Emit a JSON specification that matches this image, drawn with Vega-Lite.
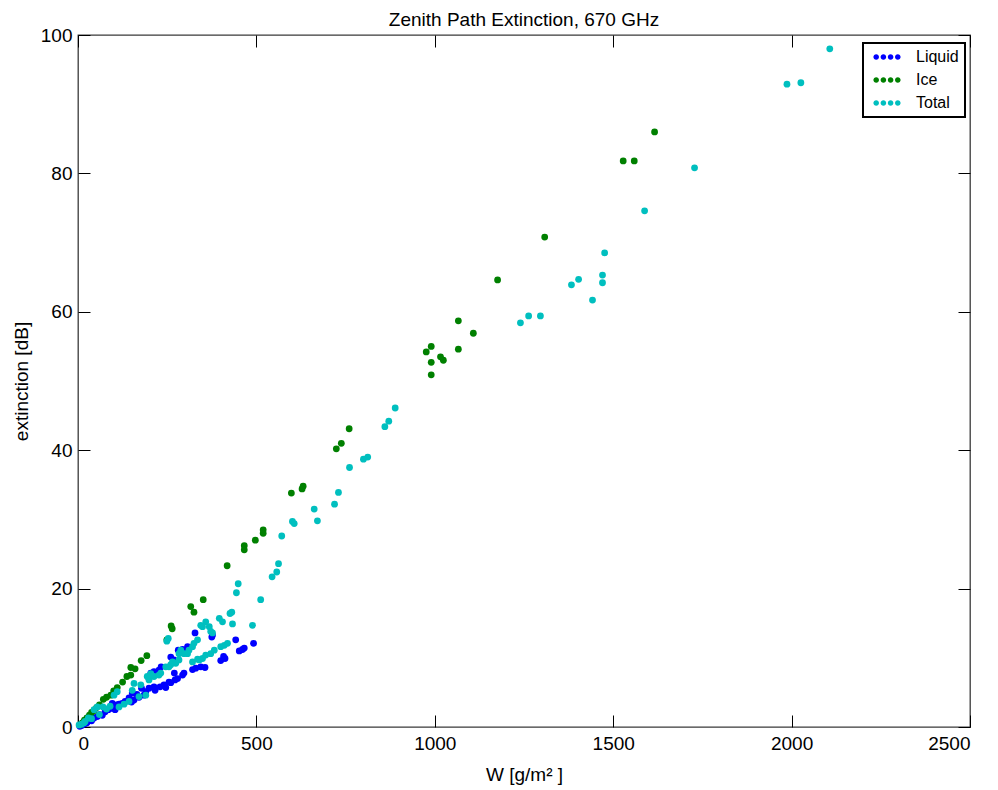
{
  "$schema": "https://vega.github.io/schema/vega-lite/v6.json",
  "autosize": "none",
  "padding": {"left": 78, "top": 35, "right": 28, "bottom": 63},
  "width": 892,
  "height": 692,
  "background": "white",
  "title": {"text": "Zenith Path Extinction, 670 GHz", "font": "Liberation Sans", "fontSize": 19, "fontWeight": "normal", "anchor": "middle", "offset": -4, "color": "black"},
  "config": {
    "view": {"stroke": "#3a3a3a", "strokeWidth": 1.3},
    "axis": {"domain": false, "grid": false, "tickColor": "black", "tickWidth": 1, "tickSize": -12, "labelFont": "Liberation Sans", "labelFontSize": 19, "labelColor": "black", "titleFont": "Liberation Sans", "titleFontSize": 19, "titleFontWeight": "normal", "titleColor": "black", "format": "d"},
    "legend": {"strokeWidth": 2}
  },
  "data": {"values": [
    {"series":"Liquid","W":5,"ext":0.1},{"series":"Liquid","W":10,"ext":0.2},{"series":"Liquid","W":15,"ext":0.4},{"series":"Liquid","W":20,"ext":0.5},{"series":"Liquid","W":25,"ext":0.6},{"series":"Liquid","W":31,"ext":1.0},{"series":"Liquid","W":38,"ext":0.9},{"series":"Liquid","W":45,"ext":1.3},{"series":"Liquid","W":54,"ext":1.5},{"series":"Liquid","W":60,"ext":1.8},{"series":"Liquid","W":68,"ext":1.7},{"series":"Liquid","W":76,"ext":2.2},{"series":"Liquid","W":85,"ext":2.5},{"series":"Liquid","W":94,"ext":2.7},{"series":"Liquid","W":96,"ext":3.4},{"series":"Liquid","W":104,"ext":2.5},{"series":"Liquid","W":108,"ext":3.2},{"series":"Liquid","W":115,"ext":3.3},{"series":"Liquid","W":124,"ext":3.4},{"series":"Liquid","W":132,"ext":3.7},{"series":"Liquid","W":143,"ext":4.2},{"series":"Liquid","W":150,"ext":3.6},{"series":"Liquid","W":152,"ext":4.9},{"series":"Liquid","W":157,"ext":3.9},{"series":"Liquid","W":165,"ext":4.7},{"series":"Liquid","W":171,"ext":4.3},{"series":"Liquid","W":178,"ext":5.6},{"series":"Liquid","W":185,"ext":4.6},{"series":"Liquid","W":190,"ext":5.1},{"series":"Liquid","W":199,"ext":5.6},{"series":"Liquid","W":199,"ext":7.0},{"series":"Liquid","W":204,"ext":7.8},{"series":"Liquid","W":213,"ext":5.8},{"series":"Liquid","W":213,"ext":8.0},{"series":"Liquid","W":216,"ext":5.3},{"series":"Liquid","W":227,"ext":8.2},{"series":"Liquid","W":230,"ext":5.8},{"series":"Liquid","W":233,"ext":8.7},{"series":"Liquid","W":241,"ext":6.1},{"series":"Liquid","W":246,"ext":5.7},{"series":"Liquid","W":255,"ext":6.5},{"series":"Liquid","W":260,"ext":6.4},{"series":"Liquid","W":260,"ext":10.1},{"series":"Liquid","W":269,"ext":9.7},{"series":"Liquid","W":270,"ext":7.8},{"series":"Liquid","W":272,"ext":6.8},{"series":"Liquid","W":279,"ext":7.0},{"series":"Liquid","W":281,"ext":11.1},{"series":"Liquid","W":293,"ext":11.2},{"series":"Liquid","W":293,"ext":7.5},{"series":"Liquid","W":297,"ext":7.8},{"series":"Liquid","W":302,"ext":11.1},{"series":"Liquid","W":307,"ext":11.6},{"series":"Liquid","W":321,"ext":8.3},{"series":"Liquid","W":328,"ext":13.6},{"series":"Liquid","W":330,"ext":8.5},{"series":"Liquid","W":344,"ext":8.7},{"series":"Liquid","W":356,"ext":8.6},{"series":"Liquid","W":375,"ext":13.0},{"series":"Liquid","W":377,"ext":13.3},{"series":"Liquid","W":400,"ext":9.6},{"series":"Liquid","W":408,"ext":10.2},{"series":"Liquid","W":412,"ext":9.9},{"series":"Liquid","W":442,"ext":12.6},{"series":"Liquid","W":452,"ext":11.0},{"series":"Liquid","W":461,"ext":11.2},{"series":"Liquid","W":466,"ext":11.4},{"series":"Liquid","W":492,"ext":12.1},
    {"series":"Ice","W":5,"ext":0.3},{"series":"Ice","W":12,"ext":0.6},{"series":"Ice","W":18,"ext":1.0},{"series":"Ice","W":25,"ext":1.3},{"series":"Ice","W":32,"ext":1.7},{"series":"Ice","W":38,"ext":2.1},{"series":"Ice","W":45,"ext":2.4},{"series":"Ice","W":52,"ext":2.8},{"series":"Ice","W":60,"ext":3.2},{"series":"Ice","W":71,"ext":4.0},{"series":"Ice","W":80,"ext":4.3},{"series":"Ice","W":92,"ext":4.6},{"series":"Ice","W":100,"ext":5.2},{"series":"Ice","W":110,"ext":5.7},{"series":"Ice","W":125,"ext":6.5},{"series":"Ice","W":137,"ext":7.3},{"series":"Ice","W":148,"ext":7.5},{"series":"Ice","W":148,"ext":8.6},{"series":"Ice","W":160,"ext":8.4},{"series":"Ice","W":177,"ext":9.6},{"series":"Ice","W":193,"ext":10.3},{"series":"Ice","W":249,"ext":12.6},{"series":"Ice","W":261,"ext":14.6},{"series":"Ice","W":264,"ext":14.2},{"series":"Ice","W":316,"ext":17.4},{"series":"Ice","W":325,"ext":16.6},{"series":"Ice","W":351,"ext":18.4},{"series":"Ice","W":418,"ext":23.3},{"series":"Ice","W":466,"ext":25.6},{"series":"Ice","W":466,"ext":26.2},{"series":"Ice","W":497,"ext":27.0},{"series":"Ice","W":519,"ext":28.0},{"series":"Ice","W":519,"ext":28.5},{"series":"Ice","W":598,"ext":33.8},{"series":"Ice","W":628,"ext":34.4},{"series":"Ice","W":631,"ext":34.8},{"series":"Ice","W":724,"ext":40.2},{"series":"Ice","W":738,"ext":41.0},{"series":"Ice","W":760,"ext":43.1},{"series":"Ice","W":976,"ext":54.2},{"series":"Ice","W":990,"ext":55.0},{"series":"Ice","W":990,"ext":52.7},{"series":"Ice","W":990,"ext":50.9},{"series":"Ice","W":1016,"ext":53.5},{"series":"Ice","W":1024,"ext":53.0},{"series":"Ice","W":1066,"ext":58.7},{"series":"Ice","W":1066,"ext":54.6},{"series":"Ice","W":1108,"ext":56.9},{"series":"Ice","W":1176,"ext":64.6},{"series":"Ice","W":1308,"ext":70.8},{"series":"Ice","W":1528,"ext":81.8},{"series":"Ice","W":1559,"ext":81.8},{"series":"Ice","W":1616,"ext":86.0},
    {"series":"Total","W":3,"ext":0.3},{"series":"Total","W":10,"ext":0.4},{"series":"Total","W":17,"ext":0.6},{"series":"Total","W":20,"ext":0.8},{"series":"Total","W":29,"ext":1.3},{"series":"Total","W":38,"ext":1.2},{"series":"Total","W":45,"ext":2.5},{"series":"Total","W":54,"ext":2.9},{"series":"Total","W":60,"ext":1.8},{"series":"Total","W":70,"ext":2.9},{"series":"Total","W":80,"ext":2.6},{"series":"Total","W":90,"ext":3.0},{"series":"Total","W":101,"ext":4.6},{"series":"Total","W":110,"ext":5.1},{"series":"Total","W":115,"ext":2.9},{"series":"Total","W":129,"ext":3.3},{"series":"Total","W":143,"ext":3.7},{"series":"Total","W":152,"ext":5.3},{"series":"Total","W":157,"ext":6.3},{"series":"Total","W":171,"ext":4.4},{"series":"Total","W":176,"ext":6.1},{"series":"Total","W":190,"ext":4.6},{"series":"Total","W":194,"ext":7.3},{"series":"Total","W":199,"ext":6.8},{"series":"Total","W":204,"ext":7.7},{"series":"Total","W":213,"ext":7.3},{"series":"Total","W":227,"ext":7.5},{"series":"Total","W":232,"ext":7.8},{"series":"Total","W":246,"ext":8.7},{"series":"Total","W":249,"ext":12.4},{"series":"Total","W":253,"ext":12.8},{"series":"Total","W":255,"ext":8.7},{"series":"Total","W":260,"ext":9.0},{"series":"Total","W":265,"ext":9.4},{"series":"Total","W":274,"ext":9.2},{"series":"Total","W":283,"ext":9.7},{"series":"Total","W":283,"ext":10.6},{"series":"Total","W":288,"ext":11.1},{"series":"Total","W":297,"ext":10.6},{"series":"Total","W":307,"ext":10.6},{"series":"Total","W":311,"ext":11.1},{"series":"Total","W":321,"ext":11.6},{"series":"Total","W":321,"ext":9.4},{"series":"Total","W":325,"ext":12.1},{"series":"Total","W":335,"ext":12.6},{"series":"Total","W":335,"ext":9.8},{"series":"Total","W":340,"ext":9.7},{"series":"Total","W":344,"ext":14.7},{"series":"Total","W":349,"ext":9.9},{"series":"Total","W":349,"ext":14.5},{"series":"Total","W":358,"ext":10.4},{"series":"Total","W":358,"ext":15.2},{"series":"Total","W":368,"ext":14.5},{"series":"Total","W":372,"ext":10.6},{"series":"Total","W":372,"ext":13.8},{"series":"Total","W":377,"ext":13.6},{"series":"Total","W":382,"ext":11.1},{"series":"Total","W":396,"ext":15.7},{"series":"Total","W":400,"ext":11.6},{"series":"Total","W":405,"ext":15.2},{"series":"Total","W":410,"ext":11.8},{"series":"Total","W":419,"ext":12.1},{"series":"Total","W":426,"ext":16.4},{"series":"Total","W":431,"ext":16.6},{"series":"Total","W":433,"ext":14.9},{"series":"Total","W":444,"ext":19.4},{"series":"Total","W":449,"ext":20.7},{"series":"Total","W":489,"ext":14.7},{"series":"Total","W":512,"ext":18.4},{"series":"Total","W":544,"ext":21.7},{"series":"Total","W":557,"ext":22.4},{"series":"Total","W":562,"ext":23.6},{"series":"Total","W":571,"ext":27.6},{"series":"Total","W":601,"ext":29.7},{"series":"Total","W":606,"ext":29.4},{"series":"Total","W":662,"ext":31.5},{"series":"Total","W":671,"ext":29.8},{"series":"Total","W":719,"ext":32.2},{"series":"Total","W":730,"ext":33.9},{"series":"Total","W":761,"ext":37.5},{"series":"Total","W":800,"ext":38.7},{"series":"Total","W":812,"ext":39.0},{"series":"Total","W":860,"ext":43.4},{"series":"Total","W":871,"ext":44.2},{"series":"Total","W":889,"ext":46.1},{"series":"Total","W":1240,"ext":58.4},{"series":"Total","W":1263,"ext":59.4},{"series":"Total","W":1296,"ext":59.4},{"series":"Total","W":1383,"ext":63.9},{"series":"Total","W":1403,"ext":64.7},{"series":"Total","W":1442,"ext":61.7},{"series":"Total","W":1470,"ext":64.2},{"series":"Total","W":1470,"ext":65.3},{"series":"Total","W":1476,"ext":68.5},{"series":"Total","W":1588,"ext":74.6},{"series":"Total","W":1728,"ext":80.8},{"series":"Total","W":1987,"ext":92.9},{"series":"Total","W":2026,"ext":93.1},{"series":"Total","W":2107,"ext":98.0}
  ]},
  "layer": [
    {
      "mark": {"type": "point", "filled": true, "opacity": 1, "size": 46, "strokeWidth": 0},
      "encoding": {
        "x": {"field": "W", "type": "quantitative", "scale": {"domain": [0, 2500], "nice": false, "zero": true}, "axis": {"orient": "bottom", "values": [0, 500, 1000, 1500, 2000, 2500], "format": "d", "title": "W [g/m² ]", "labelPadding": 19.5, "titlePadding": 12}},
        "y": {"field": "ext", "type": "quantitative", "scale": {"domain": [0, 100], "nice": false}, "axis": {"orient": "left", "values": [0, 20, 40, 60, 80, 100], "format": "d", "title": "extinction [dB]", "labelPadding": 18, "titlePadding": 9}},
        "color": {"field": "series", "type": "nominal", "scale": {"domain": ["Liquid", "Ice", "Total"], "range": ["#0000ff", "#008000", "#00bfbf"]},
          "legend": {"orient": "none", "legendX": 785, "legendY": 8, "title": null, "symbolType": "M-1.7,0A0.35,0.35,0,1,0,-1,0A0.35,0.35,0,1,0,-1.7,0ZM-0.8,0A0.35,0.35,0,1,0,-0.1,0A0.35,0.35,0,1,0,-0.8,0ZM0.1,0A0.35,0.35,0,1,0,0.8,0A0.35,0.35,0,1,0,0.1,0ZM1,0A0.35,0.35,0,1,0,1.7,0A0.35,0.35,0,1,0,1,0Z", "symbolSize": 256, "symbolStrokeWidth": 0, "symbolOpacity": 1, "labelFont": "Liberation Sans", "labelFontSize": 16, "labelColor": "black", "padding": 6, "rowPadding": 7, "symbolOffset": 10, "labelOffset": 21, "strokeColor": "black", "fillColor": "white"}}
      }
    },
    {
      "mark": {"type": "point", "opacity": 0},
      "encoding": {
        "x": {"field": "W", "type": "quantitative", "axis": {"orient": "top", "values": [0, 500, 1000, 1500, 2000, 2500], "labels": false, "title": null}},
        "y": {"field": "ext", "type": "quantitative", "axis": {"orient": "right", "values": [0, 20, 40, 60, 80, 100], "labels": false, "title": null}}
      }
    }
  ],
  "resolve": {"axis": {"x": "independent", "y": "independent"}}
}
